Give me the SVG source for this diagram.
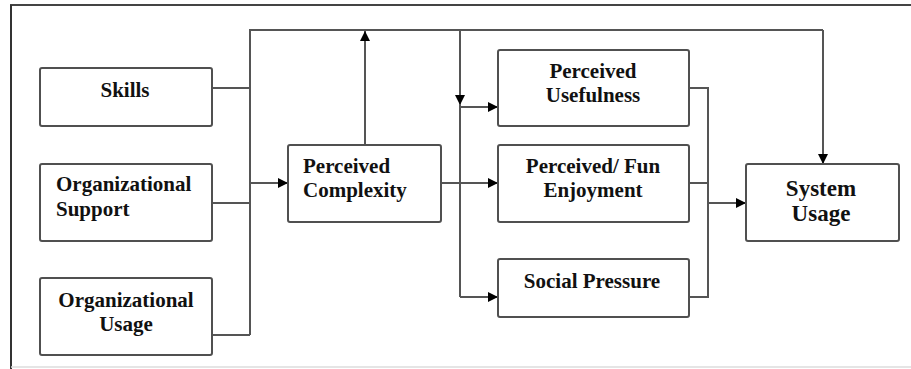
<svg xmlns="http://www.w3.org/2000/svg" width="911" height="369" viewBox="0 0 911 369">
<style>
.box{fill:#fff;stroke:#505050;stroke-width:2}
.ln{fill:none;stroke:#555;stroke-width:2}
.t{font-family:"Liberation Serif",serif;font-weight:bold;font-size:21px;fill:#111}
.c{text-anchor:middle}
.big{font-size:23px}
</style>
<defs>
<marker id="ah" viewBox="0 0 10 10" refX="10" refY="5" markerWidth="10" markerHeight="10" markerUnits="userSpaceOnUse" orient="auto">
<path d="M0,0 L10,5 L0,10 Z" fill="#000"/>
</marker>
</defs>
<rect width="911" height="369" fill="#fff"/>
<g id="frame">
<path d="M10,5 H911" stroke="#444" stroke-width="2" fill="none"/>
<path d="M11,5 V369" stroke="#333" stroke-width="2" fill="none"/>
<path d="M11,367 H911" stroke="#ddd" stroke-width="1.5" fill="none"/>
</g>
<g id="connectors">
<path class="ln" d="M212,88 H250 M212,203 H250 M212,335 H250 M250,335 V30 H823"/>
<path class="ln" d="M250,183 H288" marker-end="url(#ah)"/>
<path class="ln" d="M365,145 V31" marker-end="url(#ah)"/>
<path class="ln" d="M823,30 V164" marker-end="url(#ah)"/>
<path class="ln" d="M441,183 H498" marker-end="url(#ah)"/>
<path class="ln" d="M460,30 V105" marker-end="url(#ah)"/>
<path class="ln" d="M460,104 V297"/>
<path class="ln" d="M460,107 H498" marker-end="url(#ah)"/>
<path class="ln" d="M460,297 H498" marker-end="url(#ah)"/>
<path class="ln" d="M689,88 H708 V297 H689 M689,183 H708"/>
<path class="ln" d="M708,203 H746" marker-end="url(#ah)"/>
</g>
<g id="skills">
<rect class="box" x="40" y="68" width="172" height="58" rx="2"/>
<text class="t c" x="125" y="97">Skills</text>
</g>
<g id="org-support">
<rect class="box" x="40" y="164" width="172" height="77" rx="2"/>
<text class="t" x="56" y="191">Organizational</text>
<text class="t" x="56" y="216">Support</text>
</g>
<g id="org-usage">
<rect class="box" x="40" y="278" width="172" height="77" rx="2"/>
<text class="t c" x="126" y="307">Organizational</text>
<text class="t c" x="126" y="331">Usage</text>
</g>
<g id="perceived-complexity">
<rect class="box" x="288" y="145" width="153" height="77" rx="2"/>
<text class="t" x="303" y="173">Perceived</text>
<text class="t" x="303" y="197">Complexity</text>
</g>
<g id="perceived-usefulness">
<rect class="box" x="498" y="50" width="191" height="76" rx="2"/>
<text class="t c" x="593" y="78">Perceived</text>
<text class="t c" x="593" y="102">Usefulness</text>
</g>
<g id="perceived-enjoyment">
<rect class="box" x="498" y="145" width="191" height="77" rx="2"/>
<text class="t c" x="593" y="173">Perceived/ Fun</text>
<text class="t c" x="593" y="197">Enjoyment</text>
</g>
<g id="social-pressure">
<rect class="box" x="498" y="259" width="191" height="58" rx="2"/>
<text class="t c" x="592" y="288">Social Pressure</text>
</g>
<g id="system-usage">
<rect class="box" x="746" y="164" width="153" height="77" rx="2"/>
<text class="t c big" x="821" y="196">System</text>
<text class="t c big" x="821" y="221">Usage</text>
</g>
</svg>
